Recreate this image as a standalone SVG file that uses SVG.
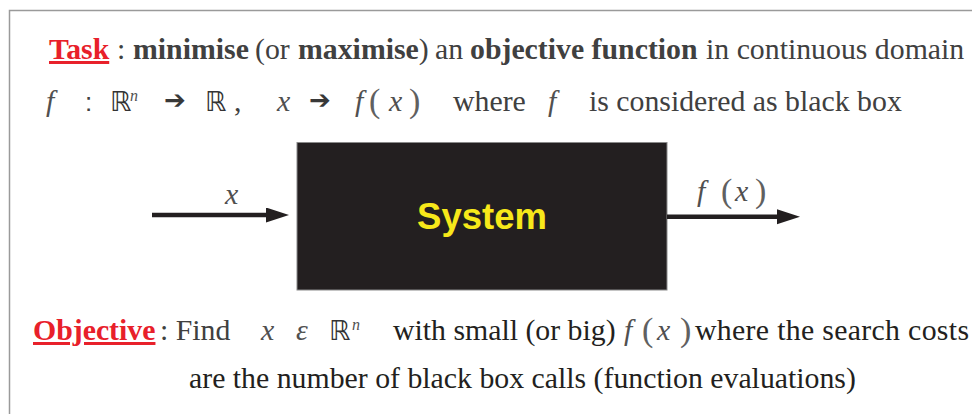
<svg xmlns="http://www.w3.org/2000/svg" width="972" height="414" viewBox="0 0 972 414">
<style>
  .serif { font-family: "Liberation Serif", "Times New Roman", serif; font-size: 29.8px; fill: #404040; }
  .dark { fill: #231f20; }
  .b { font-weight: bold; }
  .red { fill: #e8202a; font-weight: bold; text-decoration: underline; }
  .math { font-family: "Liberation Serif", "Times New Roman", serif; font-style: italic; font-size: 29.8px; fill: #505050; }
  .paren { font-family: "Liberation Serif", "Times New Roman", serif; font-size: 34px; fill: #606060; }
  .sup { font-family: "Liberation Serif", serif; font-style: italic; font-size: 16px; fill: #505050; }
  .reals { font-family: "DejaVu Sans", "Liberation Sans", sans-serif; font-size: 27px; fill: #333333; }
  .sans { font-family: "Liberation Sans", "DejaVu Sans", sans-serif; font-size: 26px; fill: #404040; }
  .arr { font-family: "DejaVu Sans", sans-serif; font-size: 26px; font-weight: bold; fill: #383838; }
  .conn { stroke: #231f20; stroke-width: 4.5; fill: none; }
</style>
<defs>
  <marker id="head" markerUnits="userSpaceOnUse" markerWidth="24" markerHeight="16" refX="0" refY="7.5" orient="auto">
    <path d="M0,0 L23,7.5 L0,15 Z" fill="#231f20"/>
  </marker>
</defs>
<rect x="0" y="0" width="972" height="414" fill="#ffffff"/>
<g id="frame">
  <path d="M9.5,414 V10.5 H972" fill="none" stroke="#9a9a9a" stroke-width="1.5"/>
</g>
<g id="task">
  <text class="serif" y="59">
    <tspan x="49" class="red">Task</tspan>
    <tspan x="117">:</tspan>
    <tspan x="133" class="b">minimise</tspan>
    <tspan x="255">(or</tspan>
    <tspan x="298" class="b">maximise</tspan><tspan>)</tspan>
    <tspan x="435">an</tspan>
    <tspan x="470" class="b">objective function</tspan>
    <tspan x="706">in continuous domain</tspan>
  </text>
  <text class="math" x="46" y="111">f</text>
  <text class="sans" x="85" y="111">:</text>
  <text class="reals" x="110" y="111">ℝ</text>
  <text class="sup" x="130" y="101">n</text>
  <text class="arr" x="164" y="109">➔</text>
  <text class="reals" x="205" y="111">ℝ</text>
  <text class="serif" x="234" y="111">,</text>
  <text class="math" x="277" y="111">x</text>
  <text class="arr" x="309" y="109">➔</text>
  <text class="math" x="355" y="111">f</text>
  <text class="paren" x="369" y="112">(</text>
  <text class="math" x="389" y="111">x</text>
  <text class="paren" x="409" y="112">)</text>
  <text class="serif" x="453" y="111">where</text>
  <text class="math" x="548" y="111">f</text>
  <text class="serif" x="589" y="111">is considered as black box</text>
</g>
<g id="system">
  <rect x="297" y="142.5" width="370" height="147.5" fill="#231f20" stroke="#8a8a8a" stroke-width="1"/>
  <text x="482" y="229" text-anchor="middle" font-family="Liberation Sans, Arial, sans-serif" font-weight="bold" font-size="36.5" fill="#f7e81a">System</text>
</g>
<g id="connectors">
  <line class="conn" x1="152" y1="215" x2="266" y2="215" marker-end="url(#head)"/>
  <line class="conn" x1="667" y1="216.7" x2="777" y2="216.7" marker-end="url(#head)"/>
  <text class="math" x="225" y="204">x</text>
  <text class="math" x="697" y="201">f</text>
  <text class="paren" x="721" y="202">(</text>
  <text class="math" x="735" y="201">x</text>
  <text class="paren" x="755" y="202">)</text>
</g>
<g id="objective">
  <text class="serif" x="33" y="340"><tspan class="red">Objective</tspan></text>
  <text class="serif" x="160" y="340">: Find</text>
  <text class="math" x="261" y="340">x</text>
  <text class="math" x="296" y="340">ε</text>
  <text class="reals" x="329" y="340">ℝ</text>
  <text class="sup" x="352" y="330">n</text>
  <text class="serif dark" x="393" y="340">with small (or big)</text>
  <text class="math" x="624" y="340">f</text>
  <text class="paren" x="642" y="341">(</text>
  <text class="math" x="657" y="340">x</text>
  <text class="paren" x="680" y="341">)</text>
  <text class="serif dark" x="695" y="340" textLength="274">where the search costs</text>
  <text class="serif dark" x="189" y="388">are the number of black box calls (function evaluations)</text>
</g>
</svg>
